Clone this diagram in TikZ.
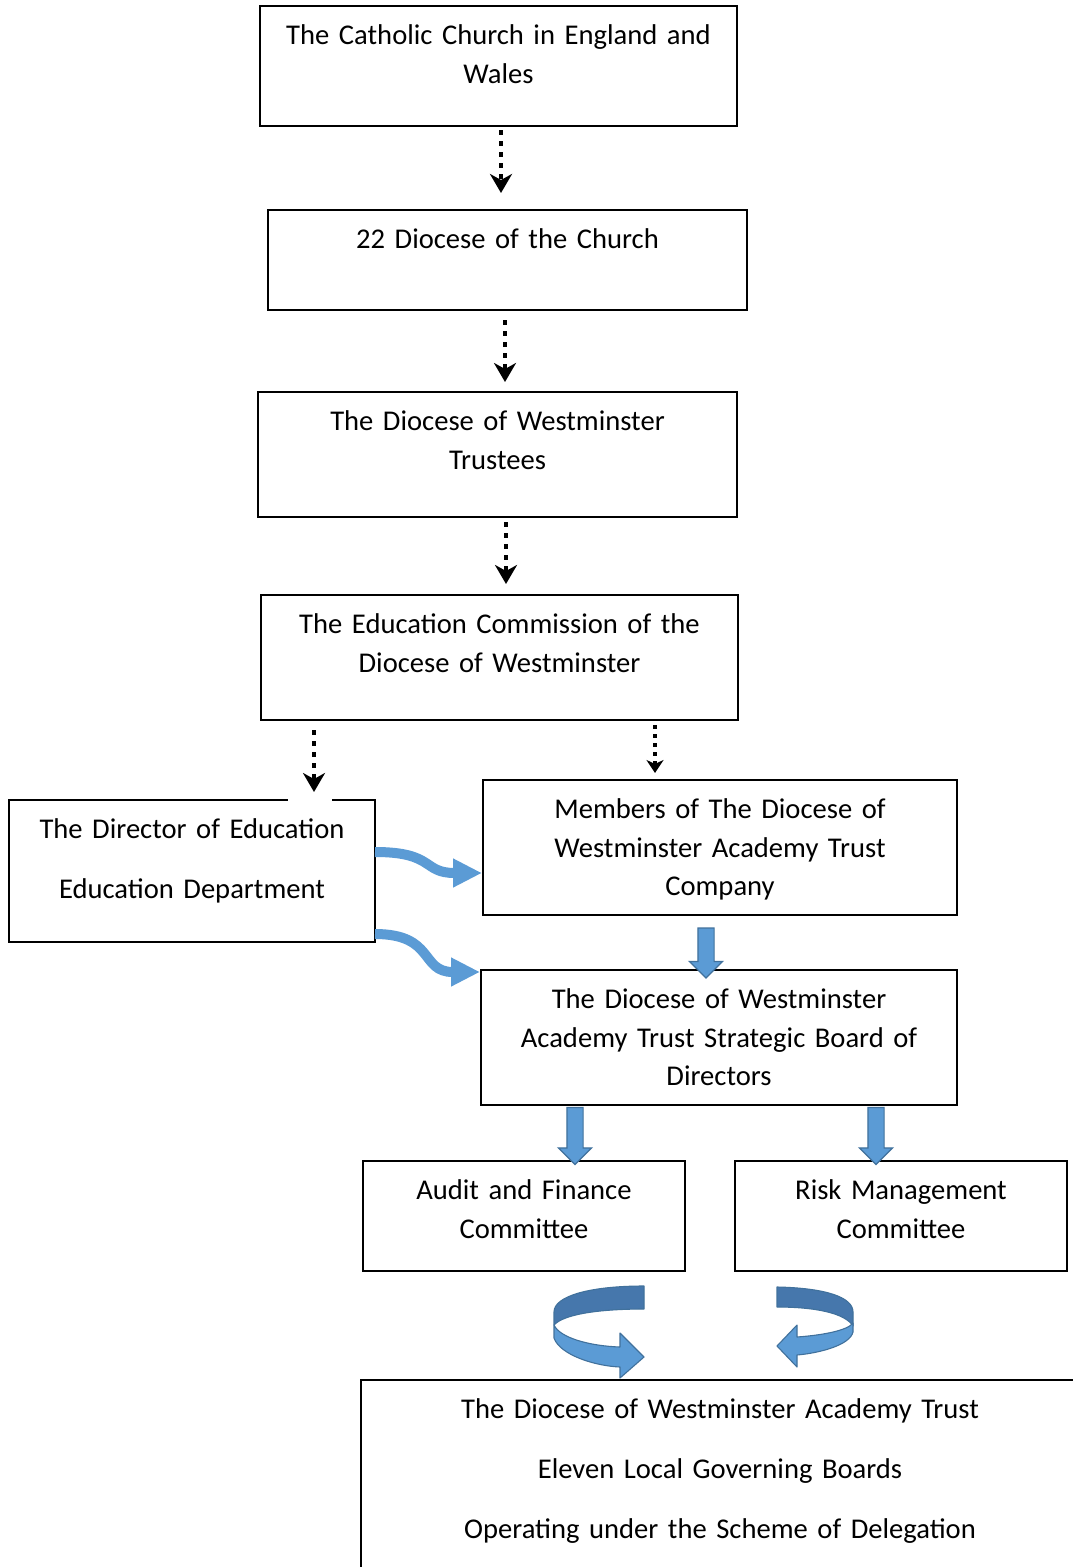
\documentclass[tikz,border=0pt]{standalone}
\usepackage{fontspec}
\setmainfont{Carlito}
\usetikzlibrary{arrows.meta,shapes.arrows}
\definecolor{wordblue}{HTML}{5B9BD5}
\definecolor{wordedge}{HTML}{41719C}
\definecolor{wordshade}{HTML}{4677AC}

\begin{document}
\begin{tikzpicture}[x=1pt,y=1pt,
  font=\fontsize{28.6}{38.6}\selectfont,
  box/.style={draw,line width=1.1pt,align=center,inner sep=0pt,
    outer sep=0pt,text height=38.5pt,anchor=north west},
  dotarrow/.style={draw,line width=3.8pt,dash pattern=on 5pt off 6pt,
    -{Stealth[length=19pt,width=22pt,inset=6pt]}},
  small head/.style={line width=3.4pt,dash pattern=on 4pt off 5pt,
    -{Stealth[length=13pt,width=17pt,inset=4pt]}},
  bluecurve/.style={wordblue,line width=10pt,
    -{Triangle[length=29pt,width=27pt]}},
  blockarrow/.style={single arrow,fill=wordblue,draw=wordedge,
    line width=1.2pt,inner sep=7.5pt,single arrow head extend=8.5pt,
    rotate=-90},
  ring/.style={draw=wordedge,line width=1.1pt,line join=round}]

  \useasboundingbox (0,0) rectangle (1073,-1567);
  \fill[white] (0,0) rectangle (1073,-1567);
  \clip (0,0) rectangle (1073,-1567);

  \node[box,text width=477pt,text depth=81.5pt] (church) at (260,-6)
    {The Catholic Church in England and\\Wales};
  \node[box,text width=479pt,text depth=61.5pt] (diocese) at (268,-210)
    {22 Diocese of the Church};
  \node[box,text width=479pt,text depth=86.5pt] (trustees) at (258,-392)
    {The Diocese of Westminster\\Trustees};
  \node[box,text width=477pt,text depth=86.5pt] (edcomm) at (261,-595)
    {The Education Commission of the\\Diocese of Westminster};
  \node[box,text width=366pt,text depth=103.5pt] (director) at (9,-800)
    {The Director of Education\\[21.4pt]Education Department};
  \node[box,text width=474pt,text depth=96.5pt] (members) at (483,-780)
    {Members of The Diocese of\\Westminster Academy Trust\\Company};
  \node[box,text width=476pt,text depth=96.5pt] (board) at (481,-970)
    {The Diocese of Westminster\\Academy Trust Strategic Board of\\Directors};
  \node[box,text width=322pt,text depth=71.5pt] (audit) at (363,-1161)
    {Audit and Finance\\Committee};
  \node[box,text width=332pt,text depth=71.5pt] (risk) at (735,-1161)
    {Risk Management\\Committee};
  \node[box,text width=718pt,text depth=181.5pt] (local) at (361,-1380)
    {The Diocese of Westminster Academy Trust\\[21.4pt]Eleven Local
     Governing Boards\\[21.4pt]Operating under the Scheme of Delegation};

  % gap in the top line of the director box
  \fill[white] (288,-797) rectangle (332,-803);

  % dotted lines of authority
  \path
    ([xshift=2.5pt,yshift=-4pt]church.south)
      edge[dotarrow] ([xshift=-6.5pt,yshift=17pt]diocese.north)
    ([xshift=-2.5pt,yshift=-10pt]diocese.south)
      edge[dotarrow] ([xshift=7.5pt,yshift=10pt]trustees.north)
    ([xshift=8.5pt,yshift=-5pt]trustees.south)
      edge[dotarrow] ([xshift=6.5pt,yshift=11pt]edcomm.north)
    ([xshift=-185.5pt,yshift=-10pt]edcomm.south)
      edge[dotarrow] ([xshift=122pt,yshift=8pt]director.north)
    ([xshift=155.5pt,yshift=-5pt]edcomm.south)
      edge[dotarrow,small head] ([xshift=-65pt,yshift=7pt]members.north);

  % curved links from the director
  \draw[bluecurve] ([yshift=-52pt]director.north east)
    .. controls +(60,0) and +(-60,0) .. ([xshift=-1pt,yshift=-25.5pt]members.west);
  \draw[bluecurve] ([yshift=8pt]director.south east)
    .. controls +(60,0) and +(-60,0) .. ([xshift=-1pt,yshift=-2pt]board.north west);

  % block arrows
  \node[blockarrow,minimum height=50pt,minimum width=32pt] (memarrow) at (706,-949) {};
  \node[blockarrow,minimum height=57pt,minimum width=33pt] (auditarrow) at (575,-1132) {};
  \node[blockarrow,minimum height=57pt,minimum width=33pt] (riskarrow) at (876,-1132) {};

  % circular arrows
  \filldraw[ring,fill=wordshade] (644,-1286) .. controls (590,-1286) and (554,-1296)
    .. (554,-1312) -- (554,-1325) .. controls (565,-1313) and (605,-1309)
    .. (644,-1309) -- cycle;
  \filldraw[ring,fill=wordblue] (554,-1325) -- (554,-1338)
    .. controls (560,-1355) and (595,-1366) .. (620,-1367) -- (620,-1378)
    -- (644,-1357) -- (620,-1333) -- (620,-1347)
    .. controls (590,-1346) and (560,-1338) .. (554,-1325) -- cycle;
  \filldraw[ring,fill=wordshade] (777,-1287) .. controls (825,-1288) and (853,-1297)
    .. (853,-1312) -- (853,-1326) .. controls (845,-1313) and (815,-1307)
    .. (777,-1307) -- cycle;
  \filldraw[ring,fill=wordblue] (853,-1323) -- (853,-1332)
    .. controls (850,-1345) and (820,-1353) .. (797,-1355) -- (797,-1367)
    -- (777,-1346) -- (797,-1325) -- (797,-1337)
    .. controls (825,-1335) and (848,-1330) .. (853,-1323) -- cycle;
\end{tikzpicture}
\end{document}
